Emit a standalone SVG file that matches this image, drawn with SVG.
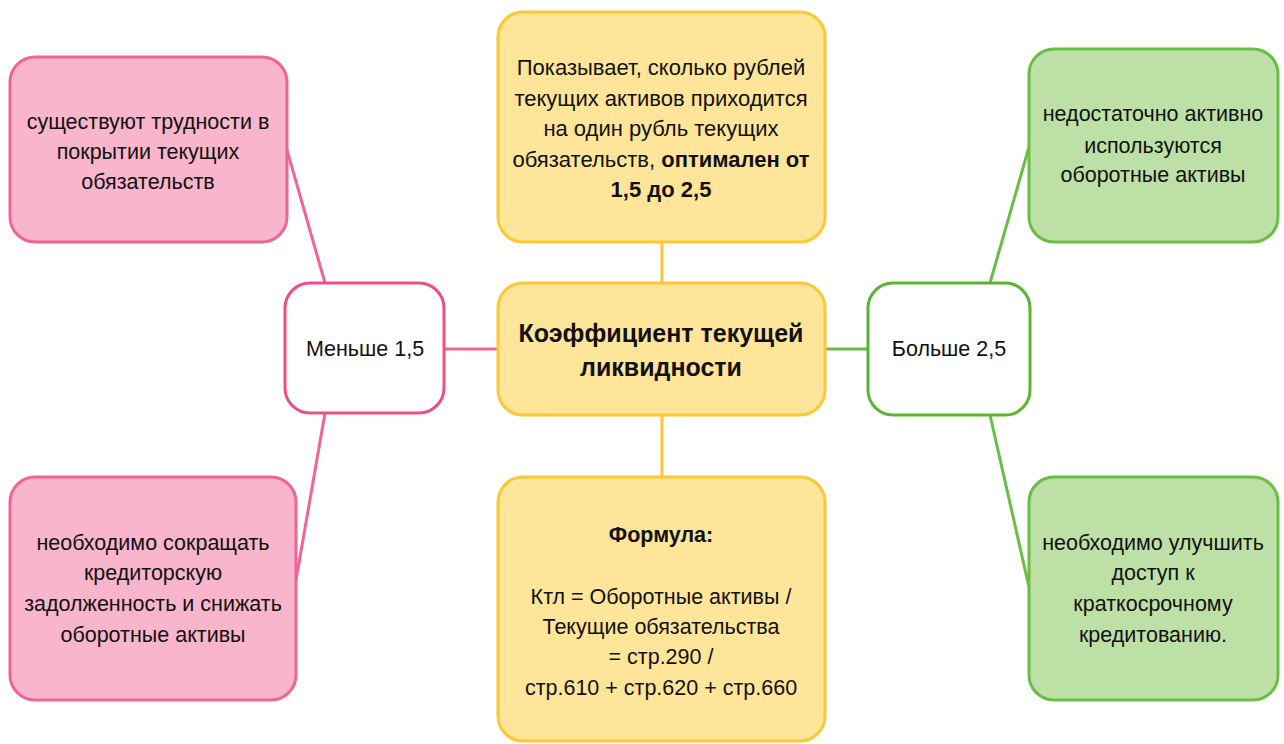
<svg xmlns="http://www.w3.org/2000/svg" width="1284" height="744" viewBox="0 0 1284 744">
<style>
text{font-family:"Liberation Sans",Arial,sans-serif;font-size:21.5px;fill:#111;text-anchor:middle}
.b{font-weight:bold}
.d{font-size:22px}
.t{font-size:25px;font-weight:bold}
.pk{fill:#f8b5cb;stroke:#f06595;stroke-width:3}
.pw{fill:#fff;stroke:#ec4f86;stroke-width:3}
.gk{fill:#bce0a6;stroke:#6abd45;stroke-width:3}
.gw{fill:#fff;stroke:#5cb531;stroke-width:3}
.y{fill:#fee599;stroke:#fcc834;stroke-width:3}
.lp{stroke:#f06595;stroke-width:3;fill:none}
.lg{stroke:#6abd45;stroke-width:3;fill:none}
.ly{stroke:#fcc834;stroke-width:3;fill:none}
</style>
<rect width="1284" height="744" fill="#fff"/>
<g id="connectors">
<line class="lp" x1="287" y1="150" x2="325" y2="283"/>
<line class="lp" x1="325" y1="413" x2="296" y2="580"/>
<line class="lp" x1="444" y1="349" x2="498" y2="349"/>
<line class="lg" x1="825" y1="349" x2="868" y2="349"/>
<line class="lg" x1="990" y1="283" x2="1029" y2="147"/>
<line class="lg" x1="990" y1="415" x2="1029" y2="587"/>
<line class="ly" x1="662" y1="242" x2="662" y2="283"/>
<line class="ly" x1="662" y1="415" x2="662" y2="477"/>
</g>
<g id="node-tl">
<rect class="pk" x="10" y="57" width="277" height="185" rx="25"/>
<text x="148" y="129">существуют трудности в</text>
<text x="148" y="159">покрытии текущих</text>
<text x="148" y="189">обязательств</text>
</g>
<g id="node-less">
<rect class="pw" x="285" y="283" width="159" height="130" rx="25"/>
<text x="365" y="356">Меньше 1,5</text>
</g>
<g id="node-bl">
<rect class="pk" x="10" y="477" width="286" height="223" rx="25"/>
<text x="153" y="550">необходимо сокращать</text>
<text x="153" y="580">кредиторскую</text>
<text x="153" y="611">задолженность и снижать</text>
<text x="153" y="642">оборотные активы</text>
</g>
<g id="node-desc">
<rect class="y" x="498" y="12" width="327" height="230" rx="25"/>
<text class="d" x="661" y="75">Показывает, сколько рублей</text>
<text class="d" x="661" y="106">текущих активов  приходится</text>
<text class="d" x="661" y="136">на один рубль текущих</text>
<text class="d" x="661" y="167">обязательств, <tspan class="b">оптимален от</tspan></text>
<text x="661" y="197" class="d b">1,5 до 2,5</text>
</g>
<g id="node-main">
<rect class="y" x="498" y="283" width="327" height="132" rx="25"/>
<text x="661" y="342" class="t">Коэффициент текущей</text>
<text x="661" y="376" class="t">ликвидности</text>
</g>
<g id="node-formula">
<rect class="y" x="498" y="477" width="327" height="264" rx="25"/>
<text x="661" y="542" class="b">Формула:</text>
<text x="661" y="604">Ктл = Оборотные активы /</text>
<text x="661" y="634">Текущие обязательства</text>
<text x="661" y="664">= стр.290 /</text>
<text x="661" y="695">стр.610 + стр.620 + стр.660</text>
</g>
<g id="node-more">
<rect class="gw" x="868" y="283" width="162" height="132" rx="25"/>
<text x="949" y="356">Больше 2,5</text>
</g>
<g id="node-tr">
<rect class="gk" x="1029" y="49" width="249" height="193" rx="25"/>
<text x="1153" y="121">недостаточно активно</text>
<text x="1153" y="153">используются</text>
<text x="1153" y="182">оборотные активы</text>
</g>
<g id="node-br">
<rect class="gk" x="1029" y="477" width="249" height="223" rx="25"/>
<text x="1153" y="550">необходимо улучшить</text>
<text x="1153" y="580">доступ к</text>
<text x="1153" y="611">краткосрочному</text>
<text x="1153" y="642">кредитованию.</text>
</g>
</svg>
